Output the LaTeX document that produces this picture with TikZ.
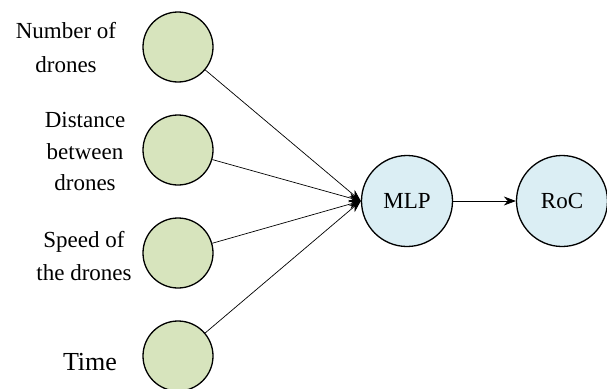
\documentclass[tikz,border=0pt]{standalone}
\usepackage{fontspec}
\setmainfont{Liberation Serif}
\usetikzlibrary{arrows.meta}
\definecolor{ingreen}{HTML}{D7E4BD}
\definecolor{outblue}{HTML}{DBEEF4}
\begin{document}
\begin{tikzpicture}[x=1pt,y=-1pt,
  inp/.style={circle,draw=black,line width=1.3pt,fill=ingreen,minimum size=70pt,inner sep=0pt},
  proc/.style={circle,draw=black,line width=1.3pt,fill=outblue,minimum size=91pt,inner sep=0pt,font=\fontsize{23}{27}\selectfont},
  lab/.style={align=center,inner sep=0pt},
  conn/.style={line width=0.7pt,-{Stealth[length=12pt,width=9pt]}}]
\useasboundingbox (0,0) rectangle (607,388);
\node[inp] (n1) at (178,47) {};
\node[inp] (n2) at (178,150) {};
\node[inp] (n3) at (178,253) {};
\node[inp] (n4) at (178,356) {};
\node[proc] (mlp) at (407,201) {MLP};
\node[proc] (roc) at (562,201) {RoC};
\node[lab,font=\fontsize{23}{34}\selectfont] (t1) at (66,47.5) {Number of\\drones};
\node[lab,font=\fontsize{23}{31.5}\selectfont] (t2) at (85,151.5) {Distance\\between\\drones};
\node[lab,font=\fontsize{23}{33}\selectfont] (t3) at (84,256) {Speed of\\the drones};
\node[lab,font=\fontsize{26}{30}\selectfont] (t4) at (90,362) {Time};
\draw[conn] (n1) -- (mlp.west);
\draw[conn] (n2) -- (mlp.west);
\draw[conn] (n3) -- (mlp.west);
\draw[conn] (n4) -- (mlp.west);
\draw[conn] (mlp) -- (roc);
\end{tikzpicture}
\end{document}
